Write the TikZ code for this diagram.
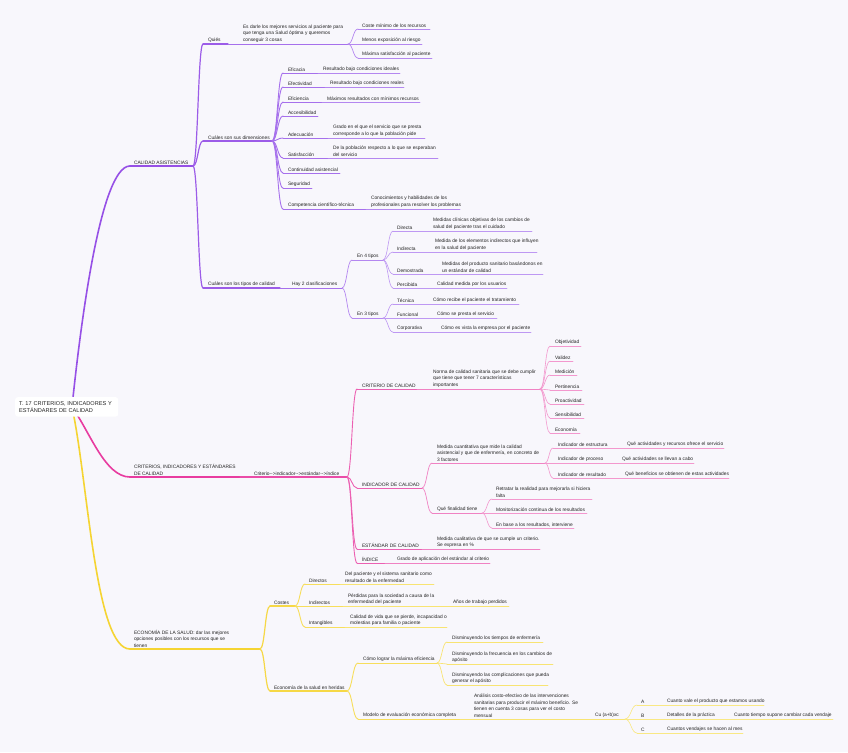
\documentclass[tikz,border=0pt]{standalone}
\usepackage{fontspec}
\setmainfont{Liberation Sans}
\usetikzlibrary{calc}
\definecolor{bgc}{RGB}{248,247,252}
\definecolor{txc}{RGB}{35,35,35}
\definecolor{pA}{RGB}{150,80,230}
\definecolor{pB}{RGB}{156,92,232}
\definecolor{pC}{RGB}{166,112,236}
\definecolor{pD}{RGB}{180,135,240}
\definecolor{pE}{RGB}{190,152,243}
\definecolor{kA}{RGB}{232,60,160}
\definecolor{kB}{RGB}{234,76,168}
\definecolor{kC}{RGB}{236,96,178}
\definecolor{kD}{RGB}{240,130,195}
\definecolor{kE}{RGB}{243,152,206}
\definecolor{yA}{RGB}{245,212,50}
\definecolor{yB}{RGB}{246,216,70}
\definecolor{yC}{RGB}{247,222,92}
\definecolor{yD}{RGB}{248,228,115}
\definecolor{yE}{RGB}{249,232,132}
\tikzset{
 p1/.style={draw=pA,line width=1.6pt,line cap=round},
 p2/.style={draw=pB,line width=1.2pt,line cap=round},
 p3/.style={draw=pC,line width=0.9pt,line cap=round},
 p4/.style={draw=pD,line width=0.7pt,line cap=round},
 p5/.style={draw=pE,line width=0.6pt,line cap=round},
 k1/.style={draw=kA,line width=1.6pt,line cap=round},
 k2/.style={draw=kB,line width=1.2pt,line cap=round},
 k3/.style={draw=kC,line width=0.9pt,line cap=round},
 k4/.style={draw=kD,line width=0.7pt,line cap=round},
 k5/.style={draw=kE,line width=0.6pt,line cap=round},
 y1/.style={draw=yA,line width=1.6pt,line cap=round},
 y2/.style={draw=yB,line width=1.2pt,line cap=round},
 y3/.style={draw=yC,line width=0.9pt,line cap=round},
 y4/.style={draw=yD,line width=0.7pt,line cap=round},
 y5/.style={draw=yE,line width=0.6pt,line cap=round},
 txt/.style={inner sep=0pt,outer sep=0pt,align=left,anchor=south west,
   font=\fontsize{4.85}{6.8}\selectfont,text=txc},
 rootbox/.style={fill=white,rounded corners=2.5pt,anchor=north west,
   text width=95pt,inner xsep=4pt,inner ysep=4.2pt,align=left,
   font=\fontsize{5.6}{7}\selectfont,text=txc}
}
\newcommand{\mnode}[7]{%
 \coordinate (#1-s) at (#2,#4);
 \coordinate (#1-e) at (#3,#4);
 \draw[#7] (#1-s) -- (#1-e);
 \node[txt] (#1) at (#5,#4-1.2) {#6};
}
\newcommand{\mlink}[3]{\draw[#3] let \p1=(#1-e), \p2=(#2-s) in (\p1) .. controls ({(\x1+\x2)/2},\y1) and ({(\x1+\x2)/2},\y2) .. (\p2);}
\begin{document}
\begin{tikzpicture}[x=1pt,y=-1pt]
\fill[bgc] (0,0) rectangle (848,752);
\useasboundingbox (0,0) rectangle (848,752);

% ---------- level 1 nodes ----------
\mnode{ca}{130}{193}{166}{134}{CALIDAD ASISTENCIAS}{p1}
\mnode{crit}{130}{240}{477}{134}{CRITERIOS, INDICADORES Y ESTÁNDARES\\DE CALIDAD}{k1}
\mnode{econ0}{130}{260}{649}{134}{ECONOMÍA DE LA SALUD: dar las mejores\\opciones posibles con los recursos que se\\tienen}{y1}

% root connectors
\coordinate (rc) at (72,407);
\draw[p1] (rc) .. controls (80,330) and (100,166) .. (ca-s);
\draw[k1] (rc) .. controls (90,432) and (105,477) .. (crit-s);
\draw[y1] (rc) .. controls (88,480) and (95,649) .. (econ0-s);
\node[rootbox] (root) at (15,397) {T. 17 CRITERIOS, INDICADORES Y\\ESTÁNDARES DE CALIDAD};

% ---------- purple ----------
\mnode{quies}{203}{228}{44}{208}{Quiés}{p2}
\mnode{esdarle}{228}{348}{44}{243}{Es darle los mejores servicios al paciente para\\que tenga una Salud óptima y queremos\\conseguir 3 cosas}{p3}
\mnode{coste}{358}{430}{29}{362}{Coste mínimo de los recursos}{p4}
\mnode{menos}{358}{422}{44}{362}{Menos exposición al riesgo}{p4}
\mnode{maxima}{358}{432}{58}{362}{Máxima satisfacción al paciente}{p4}
\mlink{ca}{quies}{p2}
\mlink{esdarle}{coste}{p4}
\mlink{esdarle}{menos}{p4}
\mlink{esdarle}{maxima}{p4}

\mnode{dim}{203}{272}{141}{208}{Cuáles son sus dimensiones}{p2}
\mlink{ca}{dim}{p2}
\mnode{eficacia}{283}{318}{73}{288}{Eficacia}{p3}
\mnode{eficaciaB}{318}{400}{73}{323}{Resultado bajo condiciones ideales}{p4}
\mnode{efect}{283}{325}{87}{288}{Efectividad}{p3}
\mnode{efectB}{325}{404}{87}{330}{Resultado bajo condiciones reales}{p4}
\mnode{efic}{283}{322}{102}{288}{Eficiencia}{p3}
\mnode{eficB}{322}{420}{102}{327}{Máximos resultados con mínimos recursos}{p4}
\mnode{acces}{283}{318}{116}{288}{Accesibilidad}{p3}
\mnode{adec}{283}{328}{138}{288}{Adecuación}{p3}
\mnode{adecB}{328}{425}{138}{333}{Grado en el que el servicio que se presta\\corresponde a lo que la población pide}{p4}
\mnode{satis}{283}{328}{158}{288}{Satisfacción}{p3}
\mnode{satisB}{328}{438}{158}{333}{De la población respecto a lo que se esperaban\\del servicio}{p4}
\mnode{contin}{283}{340}{173}{288}{Continuidad asistencial}{p3}
\mnode{segur}{283}{312}{188}{288}{Seguridad}{p3}
\mnode{compet}{283}{366}{209}{288}{Competencia científico-técnica}{p3}
\mnode{competB}{366}{460}{209}{371}{Conocimientos y habilidades de los\\profesionales para resolver los problemas}{p4}
\foreach \c in {eficacia,efect,efic,acces,adec,satis,contin,segur,compet}{\mlink{dim}{\c}{p3}}

\mnode{tipos}{203}{280}{288}{208}{Cuáles son los tipos de calidad}{p2}
\mlink{ca}{tipos}{p2}
\mnode{hay}{280}{342}{288}{292}{Hay 2 clasificaciones}{p3}
\mnode{en4}{352}{383}{260}{357}{En 4 tipos}{p4}
\mnode{en3}{352}{383}{318}{357}{En 3 tipos}{p4}
\mlink{hay}{en4}{p4}
\mlink{hay}{en3}{p4}
\mnode{directa}{393}{428}{231}{397}{Directa}{p5}
\mnode{directaB}{428}{532}{231}{433}{Medidas clínicas objetivas de los cambios de\\salud del paciente tras el cuidado}{p5}
\mnode{indirecta}{393}{430}{252}{397}{Indirecta}{p5}
\mnode{indirectaB}{430}{537}{252}{435}{Medida de los elementos indirectos que influyen\\en la salud del paciente}{p5}
\mnode{demos}{393}{437}{274}{397}{Demostrada}{p5}
\mnode{demosB}{437}{543}{274}{442}{Medidas del producto sanitario basándonos en\\un estándar de calidad}{p5}
\mnode{perc}{393}{432}{288}{397}{Percibida}{p5}
\mnode{percB}{432}{507}{288}{437}{Calidad medida por los usuarios}{p5}
\foreach \c in {directa,indirecta,demos,perc}{\mlink{en4}{\c}{p5}}
\mnode{tecnica}{393}{428}{304}{397}{Técnica}{p5}
\mnode{tecnicaB}{428}{519}{304}{433}{Cómo recibe el paciente el tratamiento}{p5}
\mnode{funcional}{393}{432}{318}{397}{Funcional}{p5}
\mnode{funcionalB}{432}{497}{318}{437}{Cómo se presta el servicio}{p5}
\mnode{corp}{393}{436}{332}{397}{Corporativa}{p5}
\mnode{corpB}{436}{531}{332}{441}{Cómo es vista la empresa por el paciente}{p5}
\foreach \c in {tecnica,funcional,corp}{\mlink{en3}{\c}{p5}}

% ---------- pink ----------
\mnode{flujo}{240}{347}{477}{254}{Criterio{-}{-}>indicador{-}{-}>estándar{-}{-}>índice}{k2}
\mnode{critcal}{357}{417}{389}{362}{CRITERIO DE CALIDAD}{k3}
\mnode{norma}{417}{540}{389}{433}{Norma de calidad sanitaria que se debe cumplir\\que tiene que tener 7 características\\importantes}{k4}
\mnode{obj}{550}{581}{346}{555}{Objetividad}{k5}
\mnode{val}{550}{573}{361}{555}{Validez}{k5}
\mnode{med}{550}{577}{375}{555}{Medición}{k5}
\mnode{pert}{550}{582}{390}{555}{Pertinencia}{k5}
\mnode{proa}{550}{584}{404}{555}{Proactividad}{k5}
\mnode{sens}{550}{584}{418}{555}{Sensibilidad}{k5}
\mnode{econ}{550}{580}{433}{555}{Economía}{k5}
\foreach \c in {obj,val,med,pert,proa,sens,econ}{\mlink{norma}{\c}{k5}}

\mnode{indcal}{357}{422}{488}{362}{INDICADOR DE CALIDAD}{k3}
\mnode{medcuant}{432}{545}{463}{437}{Medida cuantitativa que mide la calidad\\asistencial y que de enfermería, en concreto de\\3 factores}{k4}
\mnode{iest}{553}{612}{448}{558}{Indicador de estructura}{k5}
\mnode{iestB}{612}{724}{448}{627}{Qué actividades y recursos ofrece el servicio}{k5}
\mnode{iproc}{553}{608}{463}{558}{Indicador de proceso}{k5}
\mnode{iprocB}{608}{694}{463}{622}{Qué actividades se llevan a cabo}{k5}
\mnode{ires}{553}{611}{478}{558}{Indicador de resultado}{k5}
\mnode{iresB}{611}{729}{478}{625}{Qué beneficios se obtienen de estas actividades}{k5}
\foreach \c in {iest,iproc,ires}{\mlink{medcuant}{\c}{k5}}
\mnode{final}{432}{482}{513}{437}{Qué finalidad tiene}{k4}
\mnode{retratar}{492}{592}{499}{496}{Retratar la realidad para mejorarla si hiciera\\falta}{k5}
\mnode{monit}{492}{587}{513}{496}{Monitorización continua de los resultados}{k5}
\mnode{enbase}{492}{574}{528}{496}{En base a los resultados, interviene}{k5}
\foreach \c in {retratar,monit,enbase}{\mlink{final}{\c}{k5}}
\mlink{indcal}{medcuant}{k4}
\mlink{indcal}{final}{k4}

\mnode{estcal}{357}{422}{549}{362}{ESTÁNDAR DE CALIDAD}{k3}
\mnode{estcalB}{422}{540}{549}{437}{Medida cualitativa de que se cumple un criterio.\\Se expresa en \%}{k4}
\mnode{indice}{357}{385}{563}{362}{ÍNDICE}{k3}
\mnode{indiceB}{385}{490}{563}{397}{Grado de aplicación del estándar al criterio}{k4}
\foreach \c in {critcal,indcal,estcal,indice}{\mlink{flujo}{\c}{k3}}

% ---------- yellow ----------
\mnode{costes}{270}{295}{606}{274}{Costes}{y2}
\mnode{ecoher}{270}{347}{691}{274}{Economía de la salud en heridas}{y2}
\mlink{econ0}{costes}{y2}
\mlink{econ0}{ecoher}{y2}
\mnode{directos}{305}{340}{584}{309}{Directos}{y3}
\mnode{directosB}{340}{434}{584}{345}{Del paciente y el sistema sanitario como\\resultado de la enfermedad}{y4}
\mnode{indirectos}{305}{343}{606}{309}{Indirectos}{y3}
\mnode{indirectosB}{343}{440}{606}{348}{Pérdidas para la sociedad a causa de la\\enfermedad del paciente}{y4}
\mnode{anos}{440}{509}{606}{453}{Años de trabajo perdidos}{y4}
\mnode{intang}{305}{345}{627}{309}{Intangibles}{y3}
\mnode{intangB}{345}{447}{627}{350}{Calidad de vida que se pierde, incapacidad o\\molestias para familia o paciente}{y4}
\foreach \c in {directos,indirectos,intang}{\mlink{costes}{\c}{y3}}

\mnode{logr}{358}{437}{663}{363}{Cómo lograr la máxima eficiencia}{y3}
\mnode{dismA}{447}{543}{642}{452}{Disminuyendo los tiempos de enfermería}{y4}
\mnode{dismB}{447}{553}{664}{452}{Disminuyendo la frecuencia en los cambios de\\apósito}{y4}
\mnode{dismC}{447}{548}{685}{452}{Disminuyendo las complicaciones que pueda\\generar el apósito}{y4}
\foreach \c in {dismA,dismB,dismC}{\mlink{logr}{\c}{y4}}
\mnode{modelo}{358}{460}{719}{363}{Modelo de evaluación económica completa}{y3}
\mlink{ecoher}{logr}{y3}
\mlink{ecoher}{modelo}{y3}
\mnode{analisis}{460}{590}{719}{474}{Análisis costo-efectivo de las intervenciones\\sanitarias para producir el máximo beneficio. Se\\tienen en cuenta 3 cosas para ver el costo\\mensual}{y4}
\mnode{cu}{590}{625}{719}{595}{Cu (a+b)xc}{y4}
\mnode{a}{637}{660}{705}{641}{A}{y5}
\mnode{aB}{660}{764}{705}{667}{Cuanto vale el producto que estamos usando}{y5}
\mnode{b}{637}{660}{719}{641}{B}{y5}
\mnode{bB}{660}{720}{719}{667}{Detalles de la práctica}{y5}
\mnode{bC}{720}{833}{719}{734}{Cuanto tiempo supone cambiar cada vendaje}{y5}
\mnode{c}{637}{660}{733}{641}{C}{y5}
\mnode{cB}{660}{743}{733}{667}{Cuantos vendajes se hacen al mes}{y5}
\foreach \c in {a,b,c}{\mlink{cu}{\c}{y5}}
\end{tikzpicture}
\end{document}
